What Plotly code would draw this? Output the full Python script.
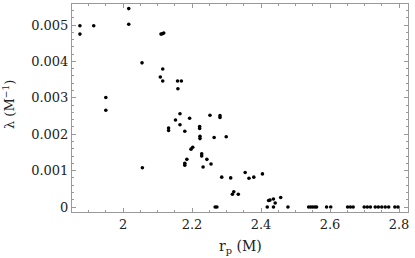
import plotly.graph_objects as go

# Data (r_p in M, lambda in 1/M)
r_p = [1.875, 1.915, 1.875, 2.0165, 2.0165, 2.055, 1.950, 1.950, 2.056,
       2.110, 2.114, 2.118, 2.115, 2.108, 2.115, 2.158, 2.169, 2.159,
       2.165, 2.152, 2.165, 2.193, 2.252, 2.281, 2.281, 2.132, 2.132,
       2.179, 2.222, 2.222, 2.223, 2.223, 2.264, 2.299, 2.202, 2.197,
       2.228, 2.228, 2.185, 2.179, 2.179, 2.243, 2.255, 2.232, 2.286,
       2.312, 2.354, 2.365, 2.379, 2.404, 2.321, 2.317, 2.334, 2.422,
       2.426, 2.436, 2.441, 2.457, 2.418, 2.436, 2.478, 2.267, 2.272,
       2.538, 2.544, 2.550, 2.556, 2.561, 2.590, 2.602, 2.651, 2.659,
       2.667, 2.699, 2.708, 2.717, 2.731, 2.740, 2.750, 2.760, 2.770,
       2.788, 2.797]
lam = [0.00498, 0.00498, 0.00475, 0.00545, 0.00502, 0.00396, 0.00301, 0.00266, 0.00108,
       0.00475, 0.00476, 0.00478, 0.00379, 0.00357, 0.00346, 0.00346, 0.00346, 0.00325,
       0.00256, 0.00239, 0.00226, 0.00244, 0.00252, 0.00251, 0.00246, 0.00217, 0.00210,
       0.00208, 0.00221, 0.00216, 0.00194, 0.00188, 0.00191, 0.00193, 0.00164, 0.00159,
       0.00146, 0.00140, 0.00131, 0.00120, 0.00115, 0.00131, 0.00118, 0.00110, 0.00082,
       0.00080, 0.00095, 0.00079, 0.00082, 0.00091, 0.00042, 0.00035, 0.00035, 0.00018,
       0.00019, 0.00022, 0.00011, 0.00026, 0.0, 0.0, 0.0, 0.0, 0.0,
       0.0, 0.0, 0.0, 0.0, 0.0, 0.0, 0.0, 0.0, 0.0,
       0.0, 0.0, 0.0, 0.0, 0.0, 0.0, 0.0, 0.0, 0.0,
       0.0, 0.0]

x_tickvals = [2.0, 2.2, 2.4, 2.6, 2.8]
x_ticktext = ["2", "2.2", "2.4", "2.6", "2.8"]
y_tickvals = [0, 0.001, 0.002, 0.003, 0.004, 0.005]
y_ticktext = ["0", "0.001", "0.002", "0.003", "0.004", "0.005"]
x_title = "r<sub>p</sub> (M)"
y_title = "λ (M<sup>−1</sup>)"

font_family = "DejaVu Serif"
frame_color = "#999999"

fig = go.Figure()
fig.add_trace(go.Scatter(
    x=r_p, y=lam, mode="markers",
    marker=dict(color="black", size=3.6, line=dict(width=0)),
    showlegend=False,
))

fig.update_layout(
    width=415, height=258,
    margin=dict(l=72, r=7, t=4, b=46),
    paper_bgcolor="white", plot_bgcolor="white",
    font=dict(family=font_family, size=13, color="#222222"),
    xaxis=dict(
        range=[1.852, 2.826], automargin=False,
        tickvals=x_tickvals, ticktext=x_ticktext,
        ticklabeloverflow="allow",
        ticks="inside", ticklen=4, tickcolor=frame_color, tickwidth=1,
        minor=dict(dtick=0.05, tick0=2.0, ticks="inside", ticklen=2,
                   tickcolor=frame_color, showgrid=False),
        showline=True, linecolor=frame_color, linewidth=1, mirror="ticks",
        showgrid=False, zeroline=False,
    ),
    yaxis=dict(
        range=[-0.000137, 0.005577], automargin=False,
        tickvals=y_tickvals, ticktext=y_ticktext,
        ticklabeloverflow="allow",
        ticks="inside", ticklen=4, tickcolor=frame_color, tickwidth=1,
        minor=dict(dtick=0.0002, tick0=0, ticks="inside", ticklen=2,
                   tickcolor=frame_color, showgrid=False),
        showline=True, linecolor=frame_color, linewidth=1, mirror="ticks",
        showgrid=False, zeroline=False,
    ),
    annotations=[
        dict(text=x_title, xref="paper", yref="paper", x=0.5, y=0,
             xanchor="center", yanchor="middle", yshift=-35, showarrow=False,
             font=dict(family=font_family, size=14, color="#222222")),
        dict(text=y_title, xref="paper", yref="paper", x=0, y=0.5,
             xanchor="center", yanchor="middle", xshift=-63, yshift=3,
             textangle=-90, showarrow=False,
             font=dict(family=font_family, size=13, color="#222222")),
    ],
)

fig.write_html("out.html",
               config={"displayModeBar": False},
               post_script="document.body.style.margin='0px';document.body.style.overflow='hidden';")
